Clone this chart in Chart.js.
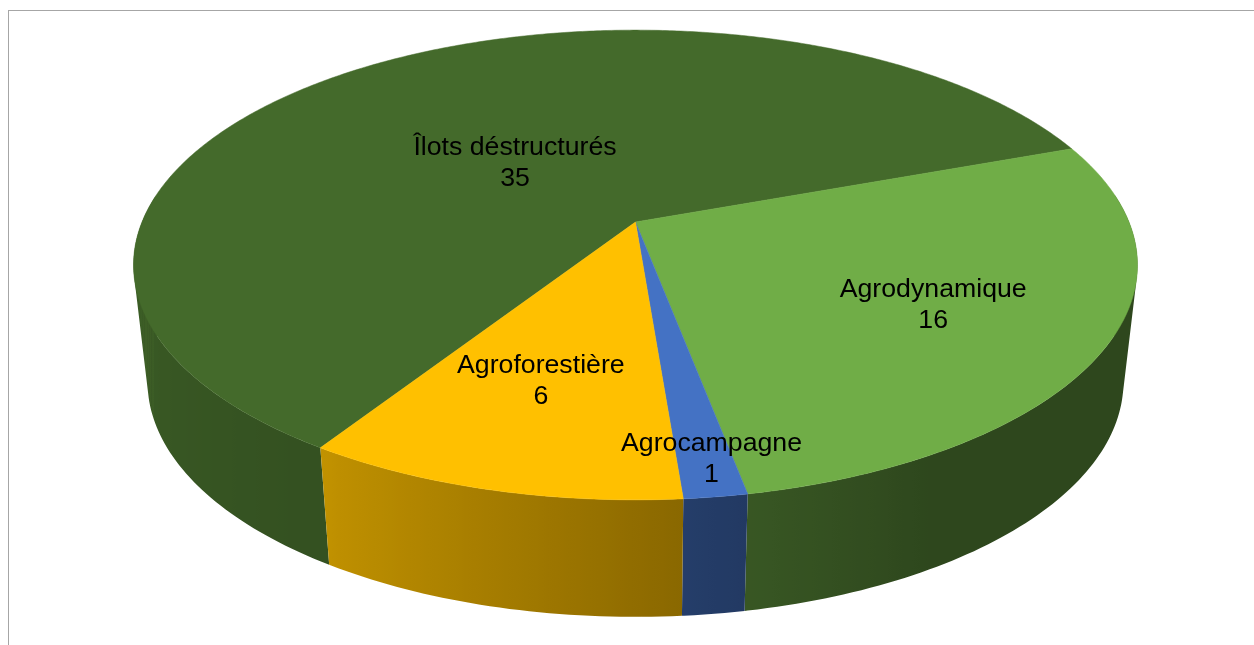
<!DOCTYPE html>
<html><head><meta charset="utf-8">
<script src="https://cdn.jsdelivr.net/npm/chart.js@4/dist/chart.umd.min.js"></script>
<style>html,body{margin:0;padding:0;background:#fff;overflow:hidden}canvas{display:block}</style>
</head><body><canvas id="c" width="1254" height="645"></canvas>
<script>
const categories = ['Îlots déstructurés', 'Agrodynamique', 'Agrocampagne', 'Agroforestière'];
const values = [35, 16, 1, 6];
const colors = ['#446A2B', '#70AD47', '#4472C4', '#FFC000'];

// layout of the tilted disc
const VIEW = {cx: 635.5, apexY: 222, sideY: 339, A: 493.5, B: 227, k: 0.183, baseScale: 0.972};
const LABEL_RADIUS = [0.374, 0.659, 0.883, 0.64];
const LABEL_SHIFT = [[-11, 3], [-3, 3], [7, -1], [-8, -1]];
const SHADE = [[-30,.41],[60,.41],[79,.5],[85.5,.54],[122.7,.76],[150,.82],[180,.89],[215,.9]];

function project(theta, f, base) {
  const u = f * Math.cos(theta), v = f * Math.sin(theta), w = 1 - VIEW.k * v;
  const s = base ? VIEW.baseScale : 1;
  return [VIEW.cx + s * VIEW.A * u / w, (base ? VIEW.sideY : VIEW.apexY) + VIEW.B * v / w];
}
function shade(deg) {
  let d = ((deg + 90) % 360 + 360) % 360 - 90;
  if (d > 215) d = 215;
  for (let i = 1; i < SHADE.length; i++) {
    if (d <= SHADE[i][0]) {
      const a = SHADE[i-1], b = SHADE[i], t = (d - a[0]) / (b[0] - a[0]);
      return a[1] + t * (b[1] - a[1]);
    }
  }
  return SHADE[SHADE.length-1][1];
}
function darken(hex, f) {
  const n = parseInt(hex.slice(1), 16);
  return `rgb(${Math.round((n>>16&255)*f)},${Math.round((n>>8&255)*f)},${Math.round((n&255)*f)})`;
}
function area(p) {
  let a = 0;
  p.forEach((q, i) => { const r = p[(i + 1) % p.length]; a += q[0] * r[1] - r[0] * q[1]; });
  return a;
}
const tilted = {
  id: 'tilted',
  beforeDraw(chart) {
    const c = chart.ctx;
    c.save();
    c.fillStyle = '#fff';
    c.fillRect(0, 0, chart.width, chart.height);
    c.fillStyle = '#A6A6A6';
    c.fillRect(8, 10, chart.width - 8, 1);
    c.fillRect(8, 10, 1, chart.height - 10);
    c.restore();
  },
  beforeDatasetDraw(chart, args) {
    const c = chart.ctx, arcs = args.meta.data, STEP = Math.PI / 180;
    c.save();
    // side wall: one gradient-filled path of strips for the visible part of each slice
    arcs.forEach(arc => {
      const col = arc.options.backgroundColor;
      const angles = [];
      for (let t = arc.startAngle; t < arc.endAngle; t += STEP) angles.push(t);
      angles.push(arc.endAngle);
      const strips = [];
      for (let i = 1; i < angles.length; i++) {
        const a = angles[i-1], b = angles[i];
        if (Math.sin((a + b) / 2) > -0.12) strips.push([a, b]);
      }
      if (!strips.length) return;
      const xs = [];
      strips.forEach(s => s.forEach(t => xs.push(project(t,1,false)[0], project(t,1,true)[0])));
      const x0 = Math.min(...xs), x1 = Math.max(...xs);
      const g = c.createLinearGradient(x0, 0, x1, 0);
      const stops = strips.map(s => {
        const x = project(s[0],1,false)[0];
        return [Math.min(1, Math.max(0, (x - x0) / (x1 - x0 || 1))), darken(col, shade(s[0] * 180 / Math.PI))];
      });
      stops.sort((p, q) => p[0] - q[0]).forEach(s => g.addColorStop(s[0], s[1]));
      c.beginPath();
      strips.forEach(s => {
        const p = [project(s[0],1,false), project(s[1],1,false), project(s[1],1,true), project(s[0],1,true)];
        if (area(p) < 0) p.reverse();
        p.forEach((pt,i) => i ? c.lineTo(pt[0],pt[1]) : c.moveTo(pt[0],pt[1]));
        c.closePath();
      });
      c.fillStyle = g;
      c.fill('nonzero');
    });
    // top face
    arcs.forEach(arc => {
      c.beginPath();
      const apex = project(0, 0, false);
      c.moveTo(apex[0], apex[1]);
      for (let t = arc.startAngle; ; t += STEP / 2) {
        const tt = Math.min(t, arc.endAngle), pt = project(tt, 1, false);
        c.lineTo(pt[0], pt[1]);
        if (tt >= arc.endAngle) break;
      }
      c.closePath();
      c.fillStyle = arc.options.backgroundColor;
      c.strokeStyle = arc.options.backgroundColor; c.lineWidth = 0.5;
      c.fill(); c.stroke();
    });
    // labels
    c.fillStyle = '#000';
    c.font = '26.7px "Liberation Sans", Arial, sans-serif';
    c.textAlign = 'center'; c.textBaseline = 'alphabetic';
    arcs.forEach((arc, i) => {
      const m = (arc.startAngle + arc.endAngle) / 2;
      const p = project(m, LABEL_RADIUS[i], false);
      const x = p[0] + LABEL_SHIFT[i][0], y = p[1] + LABEL_SHIFT[i][1];
      c.fillText(categories[i], x, y - 7);
      c.fillText(String(values[i]), x, y + 24);
    });
    c.restore();
    return false;
  }
};
new Chart(document.getElementById('c'), {
  type: 'pie',
  data: {labels: categories, datasets: [{data: values, backgroundColor: colors, borderWidth: 0}]},
  options: {
    responsive: false, animation: false, rotation: 212.7,
    plugins: {legend: {display: false}, tooltip: {enabled: false}}
  },
  plugins: [tilted]
});
</script></body></html>
